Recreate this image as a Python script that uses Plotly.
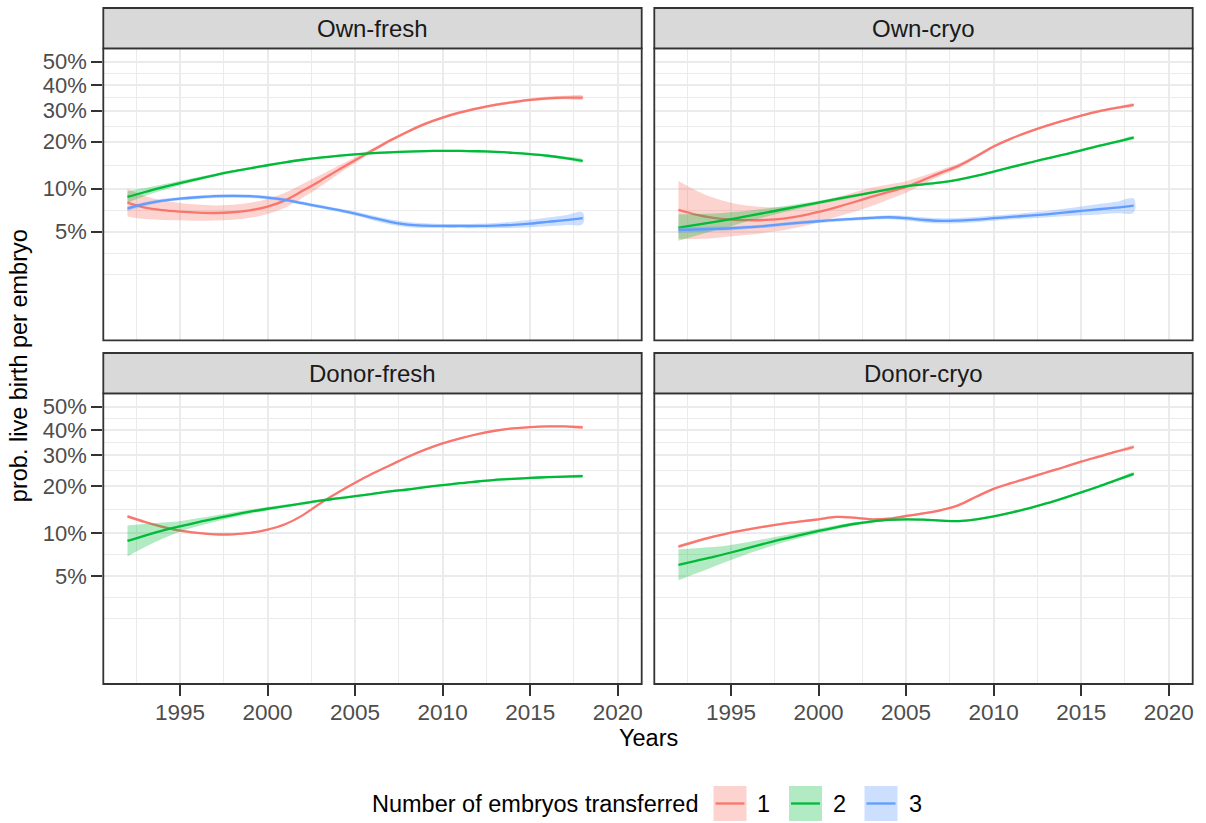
import numpy as np
import plotly.graph_objects as go

# ---------------------------------------------------------------- data
years = list(range(1992, 2019))

# fitted probability of live birth per embryo (percent), one value per year
own_fresh_1 = [8.01, 7.40, 7.10, 6.93, 6.82, 6.78, 6.86, 7.08, 7.52, 8.30, 9.64, 11.24, 13.20, 15.34, 17.70, 20.30, 22.90, 25.40, 27.50, 29.30, 30.80, 32.10, 33.10, 34.00, 34.60, 34.90, 34.90]
own_fresh_2 = [8.76, 9.47, 10.17, 10.88, 11.58, 12.29, 12.98, 13.61, 14.25, 14.87, 15.45, 15.95, 16.37, 16.71, 16.99, 17.22, 17.39, 17.51, 17.57, 17.57, 17.48, 17.32, 17.09, 16.78, 16.38, 15.84, 15.21]
own_fresh_3 = [7.28, 7.84, 8.27, 8.53, 8.72, 8.86, 8.90, 8.86, 8.67, 8.36, 7.93, 7.52, 7.12, 6.72, 6.26, 5.87, 5.61, 5.52, 5.49, 5.49, 5.49, 5.52, 5.59, 5.71, 5.87, 6.03, 6.23]
own_cryo_1 = [7.12, 6.60, 6.26, 6.09, 6.03, 6.06, 6.19, 6.47, 6.90, 7.43, 8.05, 8.76, 9.48, 10.25, 11.43, 12.77, 14.11, 16.18, 18.69, 20.87, 22.83, 24.71, 26.47, 28.19, 29.73, 30.96, 32.08]
own_cryo_2 = [5.35, 5.59, 5.84, 6.13, 6.47, 6.82, 7.20, 7.60, 8.01, 8.45, 8.90, 9.38, 9.88, 10.36, 10.68, 11.01, 11.48, 12.14, 12.97, 13.84, 14.75, 15.73, 16.66, 17.72, 18.85, 19.93, 21.15]
own_cryo_3 = [5.15, 5.18, 5.23, 5.29, 5.38, 5.49, 5.65, 5.80, 5.93, 6.06, 6.16, 6.26, 6.33, 6.23, 6.06, 5.96, 6.00, 6.09, 6.23, 6.36, 6.50, 6.64, 6.82, 7.01, 7.20, 7.40, 7.64]
donor_fresh_1 = [12.90, 11.84, 11.00, 10.36, 10.00, 9.78, 9.78, 10.00, 10.52, 11.43, 13.09, 15.64, 18.24, 20.96, 23.76, 26.47, 29.38, 32.08, 34.50, 36.50, 38.25, 39.62, 40.59, 41.15, 41.43, 41.43, 41.00]
donor_fresh_2 = [8.81, 9.58, 10.36, 11.07, 11.78, 12.45, 13.16, 13.84, 14.46, 15.05, 15.64, 16.27, 16.82, 17.39, 17.97, 18.59, 19.11, 19.75, 20.29, 20.87, 21.35, 21.84, 22.13, 22.42, 22.63, 22.83, 22.94]
donor_cryo_1 = [8.05, 8.76, 9.43, 10.04, 10.57, 11.07, 11.54, 11.95, 12.33, 12.78, 12.64, 12.33, 12.45, 12.97, 13.49, 14.18, 15.27, 17.22, 19.29, 20.87, 22.42, 24.10, 25.81, 27.73, 29.50, 31.33, 33.09]
donor_cryo_2 = [6.00, 6.40, 6.82, 7.32, 7.89, 8.49, 9.10, 9.68, 10.30, 10.91, 11.48, 11.90, 12.21, 12.33, 12.26, 12.08, 12.00, 12.33, 12.90, 13.64, 14.54, 15.64, 16.92, 18.34, 19.93, 21.74, 23.66]

# half width of the confidence band on the logit scale
own_fresh_1_ci = [0.24, 0.20, 0.17, 0.15, 0.14, 0.13, 0.13, 0.13, 0.13, 0.13, 0.12, 0.10, 0.07, 0.05, 0.035, 0.03, 0.025, 0.025, 0.025, 0.025, 0.025, 0.025, 0.025, 0.025, 0.03, 0.03, 0.035]
own_fresh_2_ci = [0.10, 0.07, 0.05, 0.04, 0.03, 0.025, 0.02, 0.02, 0.02, 0.02, 0.02, 0.02, 0.02, 0.02, 0.02, 0.02, 0.02, 0.02, 0.02, 0.02, 0.02, 0.02, 0.02, 0.02, 0.02, 0.025, 0.025]
own_fresh_3_ci = [0.04, 0.035, 0.03, 0.03, 0.03, 0.03, 0.03, 0.03, 0.03, 0.03, 0.03, 0.03, 0.03, 0.035, 0.04, 0.045, 0.045, 0.04, 0.035, 0.035, 0.04, 0.045, 0.055, 0.065, 0.075, 0.085, 0.10]
own_cryo_1_ci = [0.50, 0.42, 0.35, 0.29, 0.25, 0.22, 0.20, 0.19, 0.18, 0.17, 0.17, 0.16, 0.13, 0.10, 0.07, 0.05, 0.04, 0.03, 0.025, 0.02, 0.02, 0.02, 0.02, 0.02, 0.02, 0.02, 0.025]
own_cryo_2_ci = [0.23, 0.19, 0.15, 0.12, 0.09, 0.07, 0.05, 0.04, 0.03, 0.03, 0.025, 0.02, 0.02, 0.02, 0.02, 0.02, 0.02, 0.02, 0.02, 0.02, 0.02, 0.02, 0.02, 0.02, 0.02, 0.02, 0.025]
own_cryo_3_ci = [0.05, 0.045, 0.04, 0.035, 0.03, 0.03, 0.03, 0.03, 0.03, 0.03, 0.03, 0.03, 0.035, 0.04, 0.045, 0.045, 0.045, 0.045, 0.045, 0.045, 0.05, 0.055, 0.065, 0.075, 0.09, 0.10, 0.12]
donor_fresh_1_ci = [0.03, 0.025, 0.02, 0.02, 0.015, 0.015, 0.015, 0.015, 0.015, 0.015, 0.015, 0.015, 0.015, 0.015, 0.015, 0.015, 0.015, 0.015, 0.015, 0.015, 0.015, 0.015, 0.015, 0.015, 0.015, 0.015, 0.02]
donor_fresh_2_ci = [0.27, 0.20, 0.14, 0.09, 0.07, 0.055, 0.045, 0.035, 0.03, 0.025, 0.02, 0.02, 0.02, 0.02, 0.02, 0.02, 0.02, 0.02, 0.02, 0.02, 0.02, 0.02, 0.02, 0.02, 0.02, 0.02, 0.02]
donor_cryo_1_ci = [0.03, 0.025, 0.02, 0.02, 0.02, 0.02, 0.02, 0.02, 0.02, 0.02, 0.02, 0.02, 0.02, 0.02, 0.02, 0.02, 0.02, 0.02, 0.02, 0.02, 0.02, 0.02, 0.02, 0.02, 0.02, 0.02, 0.025]
donor_cryo_2_ci = [0.27, 0.22, 0.17, 0.13, 0.10, 0.08, 0.06, 0.05, 0.04, 0.035, 0.03, 0.025, 0.02, 0.02, 0.02, 0.02, 0.02, 0.02, 0.02, 0.02, 0.02, 0.02, 0.02, 0.02, 0.02, 0.02, 0.025]

panel_titles = ["Own-fresh", "Own-cryo", "Donor-fresh", "Donor-cryo"]
group_labels = ["1", "2", "3"]
y_tick_pct = [5, 10, 20, 30, 40, 50]
y_tick_text = ["5%", "10%", "20%", "30%", "40%", "50%"]
x_ticks = [1995, 2000, 2005, 2010, 2015, 2020]

panel_series = [
    [(own_fresh_1, own_fresh_1_ci), (own_fresh_2, own_fresh_2_ci), (own_fresh_3, own_fresh_3_ci)],
    [(own_cryo_1, own_cryo_1_ci), (own_cryo_2, own_cryo_2_ci), (own_cryo_3, own_cryo_3_ci)],
    [(donor_fresh_1, donor_fresh_1_ci), (donor_fresh_2, donor_fresh_2_ci)],
    [(donor_cryo_1, donor_cryo_1_ci), (donor_cryo_2, donor_cryo_2_ci)],
]

# ---------------------------------------------------------------- style
W, H = 1206, 823
COLORS = ["#F8766D", "#00BA38", "#619CFF"]
FILLS = ["rgba(248,118,109,0.32)", "rgba(0,186,56,0.30)", "rgba(97,156,255,0.32)"]
FONT = "Liberation Sans, Arial, Helvetica, sans-serif"
BORDER = "#333333"
GRID = "#EBEBEB"
TICK_SIZE = 22
TITLE_SIZE = 23.5


def logit(pct):
    p = np.asarray(pct, dtype=float) / 100.0
    return np.log(p / (1.0 - p))


def px_x(v):
    return v / W


def px_y(v):
    return 1.0 - v / H


# panel rectangles in pixels
col_x = [(103.3, 641.7), (654.3, 1192.7)]
row_y = [(48.3, 340.3), (393.3, 684.0)]
strip_h = 40.3

# logit axis: limits 1%..50% with 5% expansion
lo_lim, hi_lim = logit(1.0), logit(50.0)
span = hi_lim - lo_lim
y_range = [lo_lim - 0.05 * span, hi_lim + 0.05 * span]
y_major = logit(y_tick_pct)
step0 = y_major[1] - y_major[0]
y_ext = np.concatenate([[y_major[0] - step0], y_major])
y_minor = list((y_ext[:-1] + y_ext[1:]) / 2) + [y_ext[0]]

x_range = [1990.62, 2021.37]
x_minor = [1992.5, 1997.5, 2002.5, 2007.5, 2012.5, 2017.5]

fig = go.Figure()
layout = dict(
    width=W, height=H,
    margin=dict(l=0, r=0, t=0, b=0),
    paper_bgcolor="white", plot_bgcolor="white",
    showlegend=False,
    font=dict(family=FONT, size=TICK_SIZE, color="#4D4D4D"),
)

shapes = []
annotations = []

for i, title in enumerate(panel_titles):
    r, c = divmod(i, 2)
    x0, x1 = col_x[c]
    y0, y1 = row_y[r]
    suffix = "" if i == 0 else str(i + 1)
    xa, ya = "x" + suffix, "y" + suffix

    layout["xaxis" + suffix] = dict(
        domain=[px_x(x0), px_x(x1)], anchor=ya, range=x_range,
        tickmode="array", tickvals=x_ticks, ticktext=[str(v) for v in x_ticks],
        showticklabels=(r == 1), ticks="outside" if r == 1 else "",
        ticklen=11, tickwidth=2, tickcolor=BORDER, ticklabelstandoff=-3,
        tickfont=dict(size=TICK_SIZE + 0.5, color="#4D4D4D", family=FONT),
        showgrid=True, gridcolor=GRID, gridwidth=1.5,
        minor=dict(tickmode="array", tickvals=x_minor, showgrid=True,
                   gridcolor=GRID, gridwidth=0.8, ticklen=0),
        zeroline=False, showline=False, fixedrange=True,
    )
    layout["yaxis" + suffix] = dict(
        domain=[px_y(y1), px_y(y0)], anchor=xa, range=y_range,
        tickmode="array", tickvals=list(y_major), ticktext=y_tick_text,
        showticklabels=(c == 0), ticks="outside" if c == 0 else "",
        ticklen=11, tickwidth=2, tickcolor=BORDER,
        tickfont=dict(size=TICK_SIZE, color="#4D4D4D", family=FONT),
        showgrid=True, gridcolor=GRID, gridwidth=1.5,
        minor=dict(tickmode="array", tickvals=y_minor, showgrid=True,
                   gridcolor=GRID, gridwidth=0.8, ticklen=0),
        zeroline=False, showline=False, fixedrange=True,
    )

    for g, (vals, ci) in enumerate(panel_series[i]):
        fit = logit(vals)
        half = np.asarray(ci)
        upper = fit + half
        lower = fit - half
        fig.add_trace(go.Scatter(
            x=years + years[::-1], y=list(upper) + list(lower[::-1]),
            xaxis=xa, yaxis=ya, mode="lines", fill="toself",
            fillcolor=FILLS[g], line=dict(width=0, shape="spline"),
            hoverinfo="skip",
        ))
        fig.add_trace(go.Scatter(
            x=years, y=list(fit), xaxis=xa, yaxis=ya, mode="lines",
            line=dict(color=COLORS[g], width=2.3, shape="spline"),
            name=group_labels[g],
        ))

    # panel border
    shapes.append(dict(type="rect", xref="paper", yref="paper",
                       x0=px_x(x0), x1=px_x(x1), y0=px_y(y1), y1=px_y(y0),
                       line=dict(color=BORDER, width=1.8), fillcolor="rgba(0,0,0,0)",
                       layer="above"))
    # facet strip
    shapes.append(dict(type="rect", xref="paper", yref="paper",
                       x0=px_x(x0), x1=px_x(x1), y0=px_y(y0), y1=px_y(y0 - strip_h),
                       line=dict(color=BORDER, width=1.8), fillcolor="#D9D9D9",
                       layer="above"))
    annotations.append(dict(text=title, xref="paper", yref="paper",
                            x=px_x((x0 + x1) / 2), y=px_y(y0 - strip_h / 2),
                            xanchor="center", yanchor="middle", showarrow=False,
                            font=dict(size=24, color="#1A1A1A", family=FONT)))

# axis titles
annotations.append(dict(text="Years", xref="paper", yref="paper",
                        x=px_x((col_x[0][0] + col_x[1][1]) / 2), y=px_y(738),
                        xanchor="center", yanchor="middle", showarrow=False,
                        font=dict(size=TITLE_SIZE, color="black", family=FONT)))
annotations.append(dict(text="prob. live birth per embryo", xref="paper", yref="paper",
                        x=px_x(19), y=px_y((row_y[0][0] + row_y[1][1]) / 2),
                        xanchor="center", yanchor="middle", textangle=-90,
                        showarrow=False, font=dict(size=TITLE_SIZE, color="black", family=FONT)))

# legend
leg_y = 803.5
annotations.append(dict(text="Number of embryos transferred", xref="paper", yref="paper",
                        x=px_x(701), y=px_y(leg_y), xanchor="right", yanchor="middle",
                        showarrow=False, font=dict(size=TITLE_SIZE, color="black", family=FONT)))
key_left = [713.5, 789.0, 864.5]
for g, kx in enumerate(key_left):
    shapes.append(dict(type="rect", xref="paper", yref="paper",
                       x0=px_x(kx), x1=px_x(kx + 33), y0=px_y(leg_y + 17.5), y1=px_y(leg_y - 17.5),
                       line=dict(width=0), fillcolor=FILLS[g]))
    shapes.append(dict(type="line", xref="paper", yref="paper",
                       x0=px_x(kx + 2), x1=px_x(kx + 31), y0=px_y(leg_y), y1=px_y(leg_y),
                       line=dict(color=COLORS[g], width=2.3)))
    annotations.append(dict(text=group_labels[g], xref="paper", yref="paper",
                            x=px_x(kx + 42), y=px_y(leg_y), xanchor="left", yanchor="middle",
                            showarrow=False, font=dict(size=TITLE_SIZE, color="black", family=FONT)))

layout["shapes"] = shapes
layout["annotations"] = annotations
fig.update_layout(**layout)

fig.write_html("out.html", config={"displayModeBar": False})
